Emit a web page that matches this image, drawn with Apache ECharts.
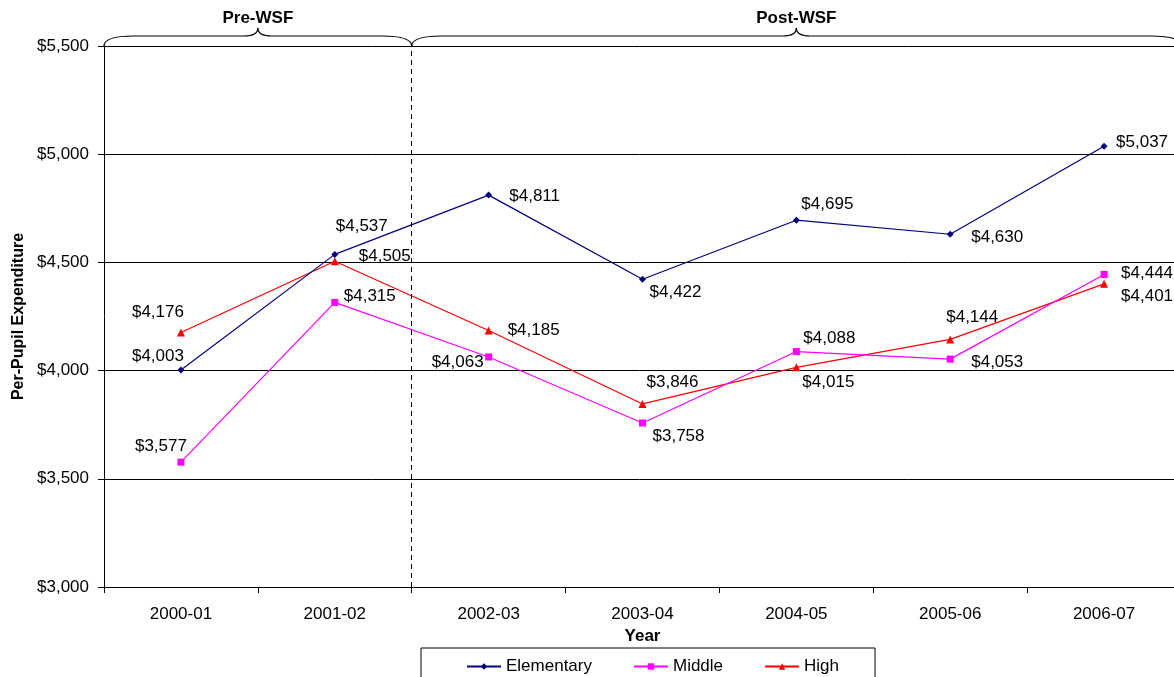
<!DOCTYPE html>
<html>
<head>
<meta charset="utf-8">
<script src="https://cdn.jsdelivr.net/npm/echarts@6/dist/echarts.min.js"></script>
<style>
  html, body { margin: 0; padding: 0; background: #fff; }
  #chart { width: 1174px; height: 677px; }
</style>
</head>
<body>
<div id="chart"></div>
<script>
// data
var years = ['2000-01', '2001-02', '2002-03', '2003-04', '2004-05', '2005-06', '2006-07'];
var elementary = [4003, 4537, 4811, 4422, 4695, 4630, 5037];
var middle = [3577, 4315, 4063, 3758, 4088, 4053, 4444];
var high = [4176, 4505, 4185, 3846, 4015, 4144, 4401];
// periods on the hidden value axis (category boundaries)
var periods = [
  { name: 'Pre-WSF', from: 0, to: 2 },
  { name: 'Post-WSF', from: 2, to: 7 }
];

// label offsets (style only)
var elemOffsets = [[-23, -14], [27, -28], [46, 1], [33, 13], [31, -16], [47, 3], [38, -4]];
var midOffsets = [[-20, -16], [35, -6], [-31, 5], [36, 13], [33, -13], [47, 3], [43, -1]];
var highOffsets = [[-23, -20], [50, -5], [45, 0], [30, -22], [32, 15], [22, -22], [43, 12]];

var FONT = '"Liberation Sans", Arial, sans-serif';
var FS = 17;

function money(v) {
  return '$' + Number(v).toLocaleString('en-US');
}

function withLabels(values, offsets) {
  return values.map(function (v, i) {
    return { value: v, label: { offset: offsets[i] } };
  });
}

function lineSeries(name, values, offsets, color, symbol, size) {
  return {
    name: name,
    type: 'line',
    data: withLabels(values, offsets),
    symbol: symbol,
    symbolSize: size,
    showAllSymbol: true,
    lineStyle: { color: color, width: 1.2 },
    itemStyle: { color: color },
    label: {
      show: true,
      position: 'inside',
      align: 'center',
      verticalAlign: 'middle',
      color: '#000',
      fontSize: FS,
      fontFamily: FONT,
      formatter: function (p) { return money(p.value); }
    },
    emphasis: { disabled: true }
  };
}

var chart = echarts.init(document.getElementById('chart'));

var option = {
  animation: false,
  backgroundColor: '#fff',
  textStyle: { fontFamily: FONT },
  grid: { left: 104, top: 46, width: 1077, height: 541, outerBoundsMode: 'none', containLabel: false },
  xAxis: [
    {
      type: 'category',
      data: years,
      boundaryGap: true,
      name: 'Year',
      nameLocation: 'middle',
      nameGap: 37,
      nameTextStyle: { fontSize: FS, fontWeight: 'bold', color: '#000', fontFamily: FONT },
      axisLine: { lineStyle: { color: '#000', width: 1 } },
      axisTick: { show: true, length: 6, lineStyle: { color: '#000' } },
      axisLabel: { margin: 19, fontSize: FS, color: '#000', fontFamily: FONT }
    },
    {
      type: 'value',
      min: 0,
      max: 7,
      show: false
    }
  ],
  yAxis: {
    type: 'value',
    min: 3000,
    max: 5500,
    interval: 500,
    name: 'Per-Pupil Expenditure',
    nameLocation: 'middle',
    nameGap: 77,
    nameRotate: 90,
    nameTextStyle: { fontSize: FS - 1, fontWeight: 'bold', color: '#000', fontFamily: FONT },
    axisLine: { show: true, lineStyle: { color: '#000', width: 1 } },
    axisTick: { show: true, length: 6, lineStyle: { color: '#000' } },
    axisLabel: {
      margin: 15,
      fontSize: FS,
      color: '#000',
      fontFamily: FONT,
      formatter: function (v) { return money(v); }
    },
    splitLine: { show: true, lineStyle: { color: '#000', width: 1 } }
  },
  legend: {
    left: 421,
    top: 648,
    padding: [10, 36, 14, 45],
    borderColor: '#000',
    borderWidth: 1,
    itemWidth: 34,
    itemHeight: 8,
    itemGap: 41,
    selectedMode: false,
    textStyle: { fontSize: FS, color: '#000', fontFamily: FONT },
    data: ['Elementary', 'Middle', 'High']
  },
  series: [
    lineSeries('High', high, highOffsets, '#ff0000', 'triangle', 8),
    lineSeries('Middle', middle, midOffsets, '#ff00ff', 'rect', 7),
    lineSeries('Elementary', elementary, elemOffsets, '#000080', 'diamond', 7),
    {
      name: 'divider',
      type: 'line',
      xAxisIndex: 1,
      data: [],
      silent: true,
      markLine: {
        silent: true,
        symbol: 'none',
        label: { show: false },
        lineStyle: { color: '#000', type: [5, 4], width: 1 },
        data: [{ xAxis: periods[0].to }]
      }
    }
  ]
};

chart.setOption(option);

// braces above the plot for each period, built from curves and lines
var braceStyle = { fill: null, stroke: '#000', lineWidth: 1.2 };
function curve(x1, y1, cx, cy, x2, y2) {
  return {
    type: 'bezierCurve', silent: true,
    shape: { x1: x1, y1: y1, cpx1: cx, cpy1: cy, x2: x2, y2: y2 },
    style: braceStyle
  };
}
function seg(x1, y1, x2, y2) {
  return { type: 'line', silent: true, shape: { x1: x1, y1: y1, x2: x2, y2: y2 }, style: braceStyle };
}

var yb = chart.convertToPixel({ yAxisIndex: 0 }, 5500);
var yt = yb - 10, yp = yb - 18;
var graphics = [];
periods.forEach(function (p) {
  var x0 = chart.convertToPixel({ xAxisIndex: 1 }, p.from);
  var x1 = chart.convertToPixel({ xAxisIndex: 1 }, p.to);
  var xm = (x0 + x1) / 2;
  var r = Math.min(30, (x1 - x0) / 6);
  graphics.push(curve(x0, yb, x0, yt, x0 + r, yt));
  graphics.push(seg(x0 + r, yt, xm - 14, yt));
  graphics.push(curve(xm - 14, yt, xm, yt, xm, yp));
  graphics.push(curve(xm, yp, xm, yt, xm + 14, yt));
  graphics.push(seg(xm + 14, yt, x1 - r, yt));
  graphics.push(curve(x1 - r, yt, x1, yt, x1, yb));
  graphics.push({
    type: 'text',
    x: xm,
    y: yb - 28,
    silent: true,
    style: {
      text: p.name,
      fill: '#000',
      font: 'bold ' + FS + 'px ' + FONT,
      align: 'center',
      verticalAlign: 'middle'
    }
  });
});
chart.setOption({ graphic: graphics });
</script>
</body>
</html>
